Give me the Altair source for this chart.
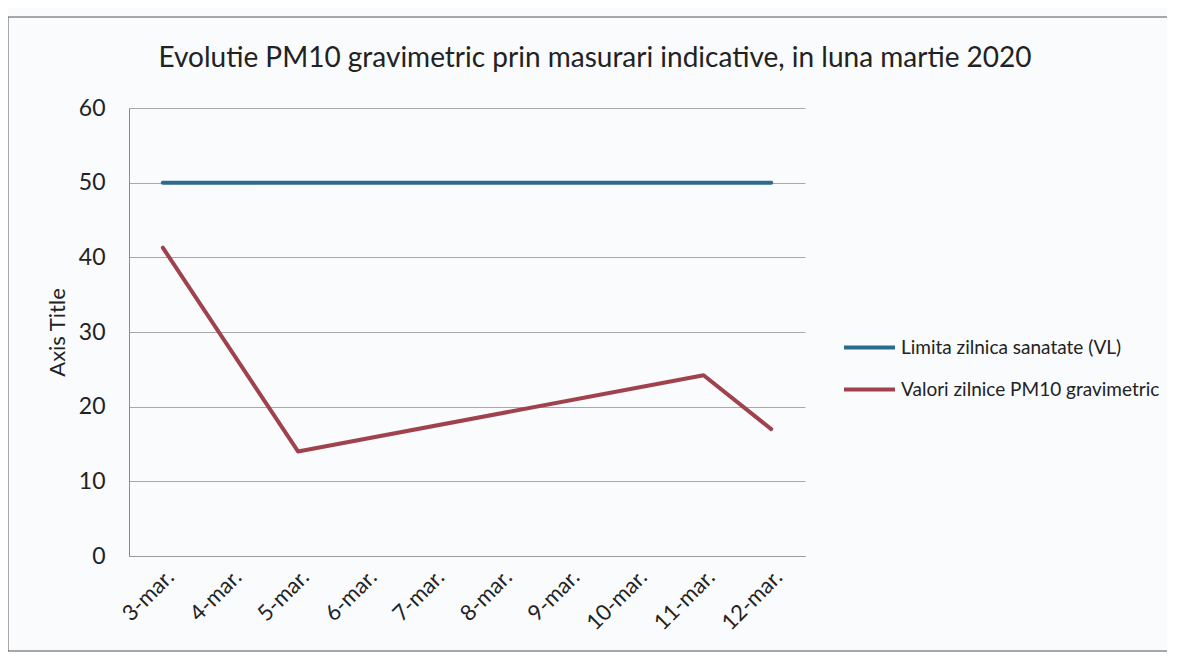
import altair as alt
import pandas as pd

# ---- data ----
days = ["3-mar.", "4-mar.", "5-mar.", "6-mar.", "7-mar.", "8-mar.",
        "9-mar.", "10-mar.", "11-mar.", "12-mar."]
limit_values = [50, 50, 50, 50, 50, 50, 50, 50, 50, 50]
pm10_days = ["3-mar.", "5-mar.", "11-mar.", "12-mar."]
pm10_values = [41.3, 14.0, 24.2, 17.0]

series_limit = "Limita zilnica sanatate (VL)"
series_pm10 = "Valori zilnice PM10 gravimetric"
series_names = [series_limit, series_pm10]
series_colors = ["#2c6b8d", "#a0424e"]

title_text = "Evolutie PM10 gravimetric prin masurari indicative, in luna martie 2020"
y_title = "Axis Title"

rows = [{"day": d, "value": v, "series": series_limit} for d, v in zip(days, limit_values)]
rows += [{"day": d, "value": v, "series": series_pm10} for d, v in zip(pm10_days, pm10_values)]
df = pd.DataFrame(rows)

FONT = "Lato"

x_enc = alt.X(
    "day:N",
    sort=days,
    scale=alt.Scale(domain=days, type="point", padding=0.5),
    axis=alt.Axis(
        title=None, labelAngle=-45, labelFontSize=22, labelFont=FONT,
        labelColor="#222222", ticks=False, labelPadding=10,
        domainColor="#9a9a9a", grid=False,
    ),
)
y_enc = alt.Y(
    "value:Q",
    scale=alt.Scale(domain=[0, 60], nice=False, zero=True),
    axis=alt.Axis(
        values=[0, 10, 20, 30, 40, 50, 60], title=y_title, titleFont=FONT,
        titleFontSize=22, titleFontWeight="normal", titleColor="#222222",
        titlePadding=9, labelFontSize=23, labelFont=FONT, labelColor="#222222",
        labelPadding=24, ticks=False, domainColor="#8a8a8a", gridColor="#a8a8a8",
        gridWidth=1,
    ),
)

lines = alt.Chart(df).mark_line(strokeWidth=4, strokeCap="round", strokeJoin="round").encode(
    x=x_enc,
    y=y_enc,
    color=alt.Color(
        "series:N",
        scale=alt.Scale(domain=series_names, range=series_colors),
        legend=alt.Legend(
            title=None, orient="none", legendX=713, legendY=212,
            symbolType="stroke", symbolSize=2600, symbolStrokeWidth=4,
            labelFont=FONT, labelFontSize=19, labelColor="#222222",
            labelOffset=4, rowPadding=4, labelLimit=400,
        ),
    ),
    detail="series:N",
)

frame = alt.Chart(pd.DataFrame({"k": [0]})).mark_rect(
    fill=None, stroke="#555555", strokeWidth=1
).encode(
    x=alt.value(-121), x2=alt.value(1047), y=alt.value(-91), y2=alt.value(543)
)

chart = alt.layer(frame, lines).properties(
    width=676,
    height=448,
    padding={"left": 121, "top": 100, "right": 362, "bottom": 96},
    autosize=alt.AutoSizeParams(type="none"),
    background="#f9fbfc",
    title=alt.Title(
        title_text, font=FONT, fontSize=28, fontWeight="normal", color="#222222",
        anchor="middle", dx=128, offset=0, dy=56,
    ),
).configure_view(stroke=None)

chart.save("out.html", embed_options={"renderer": "svg", "actions": False})
